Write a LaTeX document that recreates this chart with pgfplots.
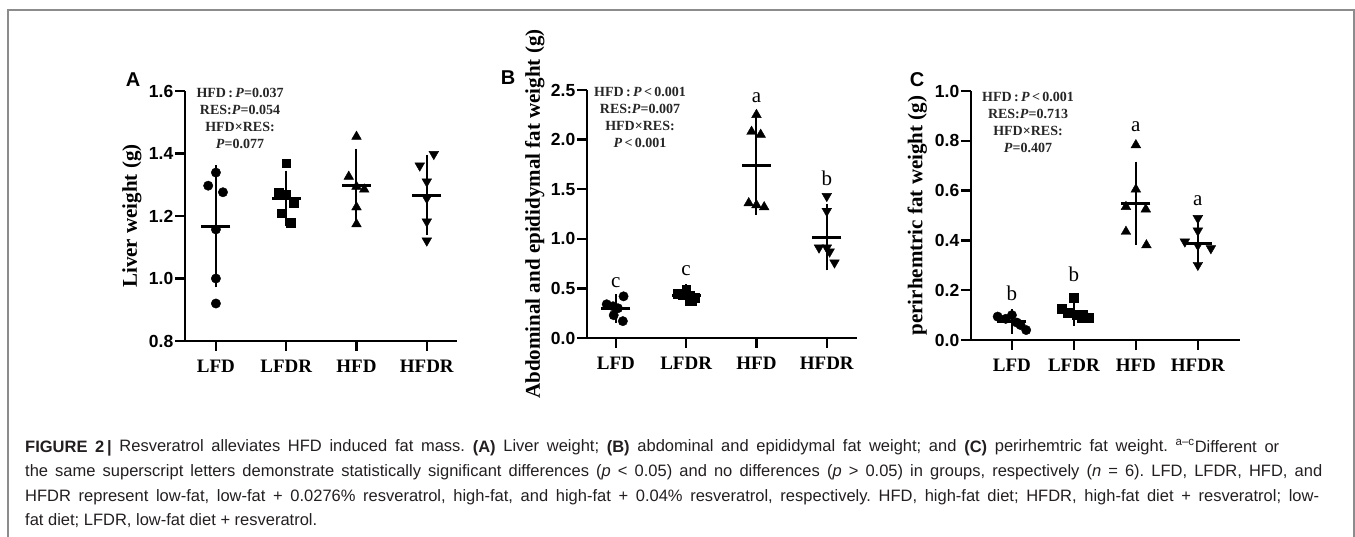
\documentclass[border=0pt]{standalone}
\usepackage{fontspec}
\setmainfont{Liberation Serif}
\setsansfont{Liberation Sans}
\newfontfamily\capfont{Liberation Sans}
\usepackage{pgfplots}
\pgfplotsset{compat=1.18}
\definecolor{bordergray}{RGB}{140,140,140}
\definecolor{txt}{RGB}{35,31,32}

\pgfplotsset{
  panel/.style={
    scale only axis, anchor=south west, clip=false,
    axis lines=left,
    axis line style={-, line width=2.4pt},
    xtick={0,1,2,3}, xticklabels={LFD,LFDR,HFD,HFDR},
    tick align=outside, major tick length=10pt,
    tick style={line width=2.4pt, black},
    xticklabel style={font=\fontsize{19}{19}\selectfont\bfseries, yshift=-6pt},
    yticklabel style={font=\fontsize{17.5}{17.5}\selectfont\sffamily\bfseries, inner xsep=1.5pt,
       /pgf/number format/.cd, fixed, fixed zerofill, precision=1, assume math mode=true},
    ylabel style={font=\fontsize{21}{21}\selectfont\bfseries, anchor=center},
  },
  pts/.style={only marks, black, mark size=4.7pt},
  sq/.style={only marks, black, mark=square*, mark size=4.4pt},
  tri/.style={only marks, black, mark=triangle*, mark size=5.6pt},
  dtri/.style={only marks, black, mark=triangle*, mark size=5.6pt, mark options={rotate=180}},
  msd/.style={only marks, black, mark=-, mark size=14.5pt, mark options={line width=3pt},
     error bars/.cd, y dir=both, y explicit,
     error bar style={line width=2pt},
     error mark options={line width=2pt, mark size=7pt}},
}
\tikzset{lett/.style={font=\fontsize{21}{21}\selectfont, anchor=base},
  annot/.style={font=\fontsize{14}{17}\selectfont\bfseries, align=center, anchor=north, inner sep=0pt, text=black!85},
  capline/.style={anchor=base west, inner sep=0pt, text=txt, font=\capfont\fontsize{16.5}{16.5}\selectfont\frenchspacing}}

\begin{document}
\begin{tikzpicture}[x=1pt,y=1pt]
\useasboundingbox (0pt,0pt) rectangle (1355pt,536pt);
\draw[bordergray, line width=1.2pt] (8pt,-3pt) -- (8pt,526pt) -- (1354pt,526pt) -- (1354pt,-3pt);

% ---------------- Panel A ----------------
\begin{axis}[panel, at={(185pt,195pt)}, width=272pt, height=250pt,
  xmin=-0.44, xmax=3.43, ymin=0.8, ymax=1.6,
  ytick={0.8,1.0,1.2,1.4,1.6},
  ylabel={Liver weight (g)},
  ylabel style={at={(axis description cs:-0.195,0.5)}}]
\addplot[pts, mark=*] coordinates {(0,1.339) (-0.11,1.297) (0.10,1.276) (0,1.157) (0,1.0) (0,0.92)};
\addplot[sq] coordinates {(1,1.369) (0.89,1.275) (1,1.27) (1.11,1.241) (0.94,1.209) (1.06,1.179)};
\addplot[tri] coordinates {(2,1.454) (1.89,1.326) (2,1.294) (2.11,1.285) (2,1.228) (2,1.174)};
\addplot[dtri] coordinates {(3.10,1.398) (2.90,1.361) (3,1.31) (3,1.257) (3,1.182) (3,1.121)};
\addplot[msd] coordinates {(0,1.167) +- (0,0.173) (1,1.256) +- (0,0.067) (2,1.297) +- (0,0.096) (3,1.267) +- (0,0.107)};
\end{axis}

% ---------------- Panel B ----------------
\begin{axis}[panel, at={(587pt,198pt)}, width=270pt, height=248pt,
  xmin=-0.41, xmax=3.43, ymin=0, ymax=2.5,
  ytick={0,0.5,1.0,1.5,2.0,2.5},
  ylabel={Abdominal and epididymal fat weight (g)},
  ylabel style={at={(axis description cs:-0.193,0.5)}}]
\addplot[pts, mark=*] coordinates {(0.11,0.42) (-0.13,0.34) (-0.04,0.32) (0.03,0.30) (-0.03,0.23) (0.10,0.17)};
\addplot[sq] coordinates {(1,0.49) (0.88,0.45) (0.95,0.44) (1.05,0.43) (1.12,0.41) (1.08,0.38)};
\addplot[tri] coordinates {(2,2.25) (1.93,2.08) (2.06,2.05) (1.89,1.36) (2,1.34) (2.11,1.32)};
\addplot[dtri] coordinates {(3,1.43) (3,1.28) (2.89,0.91) (3,0.91) (3.04,0.87) (3.11,0.76)};
\addplot[msd] coordinates {(0,0.297) +- (0,0.075) (1,0.433) +- (0,0.04) (2,1.74) +- (0,0.427) (3,1.018) +- (0,0.265)};
\node[lett] at (axis cs:0,0.51) {c};
\node[lett] at (axis cs:1,0.63) {c};
\node[lett] at (axis cs:2,2.375) {a};
\node[lett] at (axis cs:3,1.54) {b};
\end{axis}

% ---------------- Panel C ----------------
\begin{axis}[panel, at={(971pt,196pt)}, width=269pt, height=249pt,
  xmin=-0.66, xmax=3.68, ymin=0, ymax=1,
  ytick={0,0.2,0.4,0.6,0.8,1.0},
  ylabel={perirhemtric fat weight (g)},
  ylabel style={at={(axis description cs:-0.2,0.5)}}]
\addplot[pts, mark=*] coordinates {(-0.23,0.094) (-0.10,0.085) (0,0.10) (0.08,0.07) (0.14,0.06) (0.23,0.04)};
\addplot[sq] coordinates {(1,0.17) (0.80,0.125) (0.90,0.11) (1.05,0.10) (1.13,0.09) (1.24,0.09)};
\addplot[tri] coordinates {(2,0.783) (2,0.605) (1.84,0.535) (2.16,0.525) (1.84,0.435) (2.17,0.381)};
\addplot[dtri] coordinates {(3,0.489) (3,0.439) (2.79,0.395) (3,0.381) (3.21,0.368) (3,0.301)};
\addplot[msd] coordinates {(0,0.075) +- (0,0.022) (1,0.114) +- (0,0.029) (2,0.549) +- (0,0.139) (3,0.388) +- (0,0.064)};
\node[lett] at (axis cs:0,0.16) {b};
\node[lett] at (axis cs:1,0.234) {b};
\node[lett] at (axis cs:2,0.839) {a};
\node[lett] at (axis cs:3,0.542) {a};
\end{axis}

% panel letters
\node[font=\fontsize{20}{20}\selectfont\sffamily\bfseries] at (133pt,456pt) {A};
\node[font=\fontsize{20}{20}\selectfont\sffamily\bfseries] at (508pt,458pt) {B};
\node[font=\fontsize{20}{20}\selectfont\sffamily\bfseries] at (917pt,456pt) {C};

% statistics annotations
\node[annot] at (240pt,448pt) {HFD\,:\,\textit{P}=0.037\\RES:\textit{P}=0.054\\HFD×RES:\\\textit{P}=0.077};
\node[annot] at (640pt,449pt) {HFD\,:\,\textit{P}\,<\,0.001\\RES:\textit{P}=0.007\\HFD×RES:\\\textit{P}\,<\,0.001};
\node[annot] at (1028pt,444pt) {HFD\,:\,\textit{P}\,<\,0.001\\RES:\textit{P}=0.713\\HFD×RES:\\\textit{P}=0.407};

% caption
\node[capline] at (25pt,84pt) {\makebox[1254pt][s]{\textbf{FIGURE 2\,|} Resveratrol alleviates HFD induced fat mass. \textbf{(A)} Liver weight; \textbf{(B)} abdominal and epididymal fat weight; and \textbf{(C)} perirhemtric fat weight. \textsuperscript{a–c}Different or}};
\node[capline] at (25pt,59.5pt) {\makebox[1297pt][s]{the same superscript letters demonstrate statistically significant differences (\textit{p} < 0.05) and no differences (\textit{p} > 0.05) in groups, respectively (\textit{n} = 6). LFD, LFDR, HFD, and}};
\node[capline] at (25pt,35pt) {\makebox[1294pt][s]{HFDR represent low-fat, low-fat + 0.0276\% resveratrol, high-fat, and high-fat + 0.04\% resveratrol, respectively. HFD, high-fat diet; HFDR, high-fat diet + resveratrol; low-}};
\node[capline] at (25pt,11pt) {fat diet; LFDR, low-fat diet + resveratrol.};
\end{tikzpicture}
\end{document}
